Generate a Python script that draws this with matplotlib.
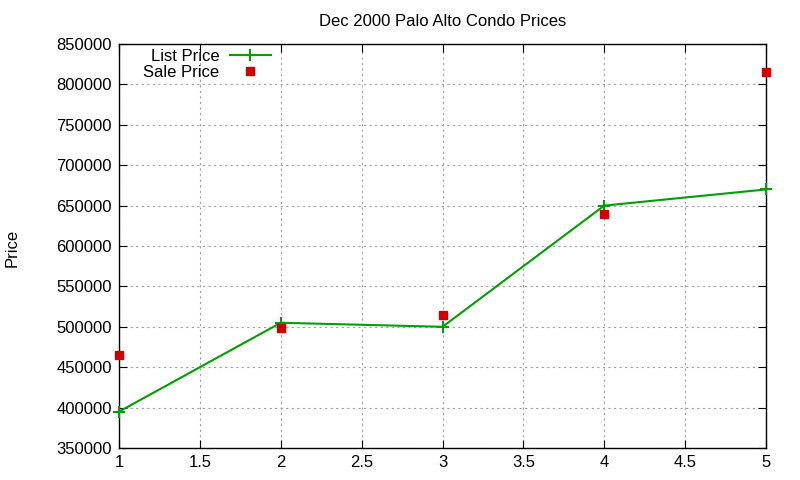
import matplotlib
matplotlib.use('Agg')
import matplotlib.pyplot as plt

plt.rcParams['font.family'] = ['Liberation Sans', 'DejaVu Sans']

# data
x = [1, 2, 3, 4, 5]
list_price = [395000, 505000, 500000, 650000, 670000]
sale_price = [465000, 499000, 515000, 640000, 815000]

fig = plt.figure(figsize=(8, 4.8), dpi=100)
ax = fig.add_axes([119 / 800, 1 - 448 / 480, (766 - 119) / 800, (448 - 44) / 480])

ax.plot(x, list_price, color='#00a000', lw=1.5, marker='+', ms=8, mew=1.5,
        label='List Price', clip_on=False, zorder=3)
ax.plot(x, sale_price, color='#cc0000', ls='none', marker='s', ms=6,
        label='Sale Price', clip_on=False, zorder=4)

ax.set_xlim(1, 5)
ax.set_ylim(350000, 850000)
ax.set_xticks([1, 1.5, 2, 2.5, 3, 3.5, 4, 4.5, 5])
ax.set_xticklabels(['1', '1.5', '2', '2.5', '3', '3.5', '4', '4.5', '5'])
ax.set_yticks(range(350000, 850001, 50000))
ax.set_yticklabels([str(v) for v in range(350000, 850001, 50000)])
ax.tick_params(direction='in', top=True, right=True, length=6, labelsize=12, pad=5)
ax.grid(True, color='#a0a0a0', ls=(0, (2, 3)), lw=0.8)
for s in ax.spines.values():
    s.set_linewidth(1.0)

ax.set_title('Dec 2000 Palo Alto Condo Prices', fontsize=12, pad=13)
fig.text(12 / 800, 1 - 248 / 480, 'Price', rotation=90, ha='center', va='center', fontsize=12)

ax.legend(loc='upper left', bbox_to_anchor=(0.03, 1.0), markerfirst=False, frameon=False,
          fontsize=12, handlelength=2.5, borderpad=0.2, labelspacing=0.05, handletextpad=0.6,
          borderaxespad=0.1)

fig.savefig('out.png', dpi=100)
